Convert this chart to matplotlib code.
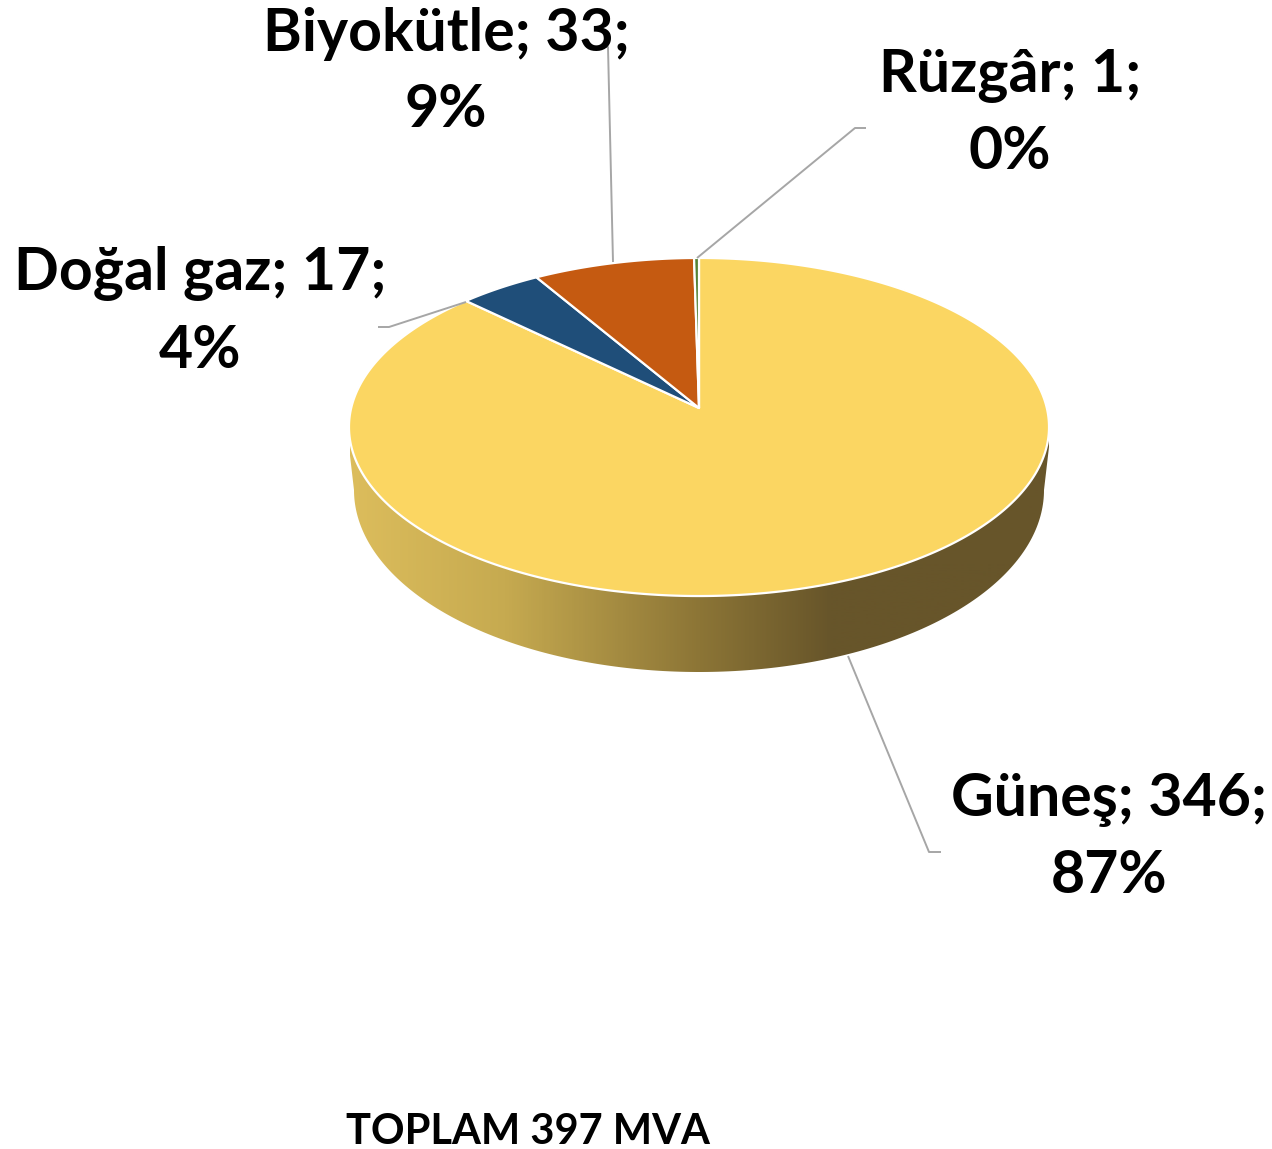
import numpy as np
import matplotlib
matplotlib.use("Agg")
import matplotlib.pyplot as plt
from matplotlib.patches import Polygon
from matplotlib.colors import LinearSegmentedColormap

# Data
names = ["Güneş", "Doğal gaz", "Biyokütle", "Rüzgâr"]
values = [346, 17, 33, 1]
percents = [87, 4, 9, 0]
total_label = "TOPLAM 397 MVA"

colors = ["#fbd662", "#1f4e79", "#c55a11", "#548235"]
label_pos = [(1109, 838), (200, 312), (446, 72), (1010, 114)]
leaders = [
    [(848, 656), (929, 852), (941, 852)],
    [(466, 302), (389, 327), (378, 327)],
    [(613, 262), (608, 47), (600, 47)],
    [(697, 258), (855, 128), (866, 128)],
]

# Pie geometry in pixels; the disc is seen in perspective, so the apex sits above the ellipse centre
CX, CY = 699, 408
A, B, K = 347.8, 166.9, -0.1124


def project(theta):
    """Clockwise angle from the top (radians) -> pixel position on the disc rim."""
    u, v = np.sin(theta), np.cos(theta)
    d = 1 - K * v
    return CX + A * u / d, CY - B * v / d


fig = plt.figure(figsize=(12.72, 11.49), dpi=100)
ax = fig.add_axes([0, 0, 1, 1])
ax.set_xlim(0, 1272)
ax.set_ylim(1149, 0)
ax.axis("off")

# Side wall with horizontal gradient
t = np.linspace(0, np.pi, 200)
rim_x, rim_y = project(np.linspace(np.pi / 2 + 0.05, 3 * np.pi / 2 - 0.05, 200))
low_x = 699 + 345 * np.cos(t)
low_y = 490 + 182 * np.sin(t)
wall = np.column_stack([
    np.r_[1049, low_x, 349, rim_x[::-1]],
    np.r_[447, low_y, 447, rim_y[::-1]],
])
cmap = LinearSegmentedColormap.from_list("wall", [
    (0.0, "#dcbd5c"), (0.22, "#c6aa50"), (0.5, "#8c7536"), (0.69, "#67552a"), (1.0, "#67552a"),
])
grad = np.linspace(0, 1, 700).reshape(1, -1)
im = ax.imshow(grad, cmap=cmap, extent=(350, 1049, 700, 430), aspect="auto", zorder=1)
patch = Polygon(wall, closed=True, transform=ax.transData, facecolor="none", edgecolor="none")
ax.add_patch(patch)
im.set_clip_path(patch)
ax.set_xlim(0, 1272)
ax.set_ylim(1149, 0)

# Top of the pie, clockwise from 12 o'clock
fractions = np.array(values) / sum(values)
start = 0.0
for frac, col in zip(fractions, colors):
    th = np.linspace(start, start + frac, max(int(frac * 720), 4)) * 2 * np.pi
    x, y = project(th)
    ax.fill(np.r_[CX, x], np.r_[CY, y], facecolor=col, edgecolor="white", linewidth=1.6,
            joinstyle="round", zorder=2)
    start += frac

# Leader lines
for pts in leaders:
    xs, ys = zip(*pts)
    ax.plot(xs, ys, color="#a6a6a6", linewidth=1.4, zorder=3, solid_capstyle="butt")

# Labels
for name, val, pct, (lx, ly) in zip(names, values, percents, label_pos):
    ax.text(lx, ly, f"{name}; {val};\n{pct}%", ha="center", va="center", family="Lato",
            fontweight="bold", fontsize=42.5, linespacing=1.52, color="black", zorder=4)

ax.text(528, 1132, total_label, ha="center", va="center", family="Lato",
        fontweight="bold", fontsize=30, color="black", zorder=4)

fig.savefig("out.png", dpi=100, facecolor="white")
plt.close(fig)
